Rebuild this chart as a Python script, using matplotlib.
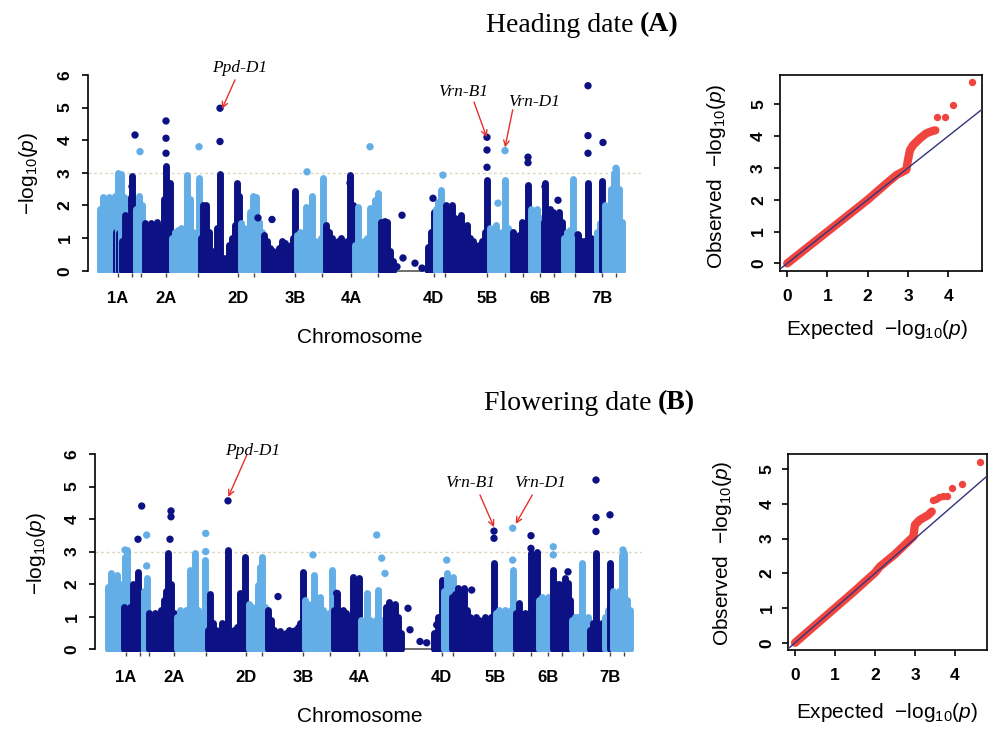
import matplotlib
matplotlib.use('Agg')
import matplotlib.pyplot as plt

plt.rcParams['font.family'] = ['Liberation Sans', 'DejaVu Sans']
plt.rcParams['mathtext.fontset'] = 'custom'
plt.rcParams['mathtext.rm'] = 'Liberation Sans'
plt.rcParams['mathtext.it'] = 'Liberation Sans:italic'

DARK = '#0c1283'
LIGHT = '#63aee6'
RED = '#f0453f'
CMAP = {'D': DARK, 'L': LIGHT}

# ---------------- data ----------------
chroms = ['1A', '1B', '1D', '2A', '2B', '2D', '3A', '3B', '3D', '4A', '4B',
          '4D', '5A', '5B', '5D', '6A', '6B', '6D', '7A', '7B', '7D']
chrom_mid = [18, 32, 41, 66, 98, 137.5, 153.5, 195, 222, 251, 277.5,
             333.5, 345, 387, 405, 423, 440, 453.5, 475, 502, 516]
shown = ['1A', '2A', '2D', '3B', '4A', '4D', '5B', '6B', '7B']

# Heading date: marker stacks (position, top -log10 p, colour) and lone markers
hd_cols = [
    (0, 1.9, 'L'), (3, 2.25, 'L'), (6, 2.2, 'L'), (9, 2.27, 'L'), (12, 2.1, 'L'), (15, 2.3, 'L'),
    (16, 1.2, 'D'), (18, 3.0, 'L'), (19, 1.15, 'D'), (21, 2.95, 'L'), (24, 2.25, 'L'),
    (22, 0.9, 'D'), (25, 1.7, 'D'), (28, 1.4, 'D'), (31, 2.27, 'D'), (32, 2.9, 'D'),
    (36, 1.9, 'L'), (39, 2.3, 'L'), (42, 2.0, 'L'),
    (45, 1.45, 'D'), (48, 1.0, 'D'), (51, 1.45, 'D'), (54, 1.1, 'D'), (57, 1.5, 'D'), (60, 1.0, 'D'),
    (62, 1.3, 'D'), (64, 2.2, 'D'), (66, 3.2, 'D'), (68, 2.7, 'D'), (70, 2.68, 'D'),
    (72, 1.0, 'L'), (75, 1.2, 'L'), (78, 1.25, 'L'), (81, 1.3, 'L'), (84, 1.2, 'L'), (87, 2.93, 'L'),
    (90, 2.2, 'L'), (93, 1.2, 'L'), (96, 1.0, 'L'), (99, 2.85, 'L'),
    (101, 1.0, 'D'), (103, 2.0, 'D'), (106, 2.0, 'D'), (109, 1.2, 'D'), (112, 0.6, 'D'), (115, 0.5, 'D'),
    (117, 1.3, 'D'), (120, 2.95, 'D'), (123, 0.4, 'D'), (126, 0.4, 'D'), (129, 0.8, 'D'), (132, 1.0, 'D'),
    (135, 1.4, 'D'), (137, 2.68, 'D'), (139, 2.3, 'D'),
    (141, 1.45, 'L'), (144, 1.3, 'L'), (147, 1.0, 'L'), (150, 1.8, 'L'), (153, 2.3, 'L'), (156, 2.27, 'L'),
    (159, 1.5, 'L'), (162, 1.2, 'L'),
    (164, 1.1, 'D'), (167, 0.9, 'D'), (170, 0.7, 'D'), (173, 0.6, 'D'), (176, 0.55, 'D'), (179, 0.7, 'D'),
    (182, 0.9, 'D'), (185, 0.85, 'D'), (188, 0.6, 'D'), (191, 0.8, 'D'), (193, 1.0, 'D'), (195, 2.45, 'D'),
    (197, 1.1, 'L'), (200, 1.2, 'L'), (203, 1.0, 'L'), (206, 1.95, 'L'), (209, 1.2, 'L'), (212, 2.3, 'L'),
    (215, 0.9, 'L'), (218, 0.8, 'L'), (221, 1.0, 'L'), (223, 2.84, 'L'),
    (226, 1.4, 'D'), (229, 1.2, 'D'), (232, 1.0, 'D'), (235, 0.8, 'D'), (238, 0.9, 'D'), (241, 1.0, 'D'),
    (244, 0.8, 'D'), (247, 0.9, 'D'), (250, 2.93, 'D'), (253, 2.0, 'D'),
    (255, 0.8, 'L'), (258, 1.95, 'L'), (261, 0.7, 'L'), (264, 0.9, 'L'), (267, 1.0, 'L'), (270, 1.92, 'L'),
    (273, 1.0, 'L'), (275, 2.16, 'L'), (278, 2.38, 'L'),
    (281, 1.5, 'D'), (284, 1.3, 'D'), (287, 1.5, 'D'), (290, 0.6, 'D'), (293, 0.3, 'D'),
    (328, 0.73, 'D'), (331, 1.2, 'D'), (334, 1.8, 'D'),
    (336, 1.9, 'L'), (338, 2.1, 'L'), (341, 2.47, 'L'), (344, 1.6, 'L'), (347, 1.2, 'L'),
    (346, 2.0, 'D'), (349, 1.9, 'D'), (352, 2.0, 'D'), (355, 1.6, 'D'), (358, 1.5, 'D'), (361, 1.7, 'D'),
    (364, 1.2, 'D'), (367, 1.4, 'D'), (370, 1.0, 'D'), (373, 0.9, 'D'), (376, 0.7, 'D'), (379, 0.8, 'D'),
    (382, 0.9, 'D'), (385, 1.2, 'D'), (387, 2.78, 'D'),
    (390, 1.3, 'L'), (393, 1.2, 'L'), (396, 1.4, 'L'), (399, 1.0, 'L'), (402, 1.2, 'L'), (405, 2.78, 'L'),
    (408, 1.3, 'L'), (411, 1.2, 'L'),
    (413, 1.2, 'D'), (416, 1.0, 'D'), (419, 1.1, 'D'), (422, 1.5, 'D'), (425, 1.3, 'D'), (428, 2.63, 'D'),
    (431, 1.9, 'L'), (434, 1.5, 'L'), (437, 1.9, 'L'), (440, 1.6, 'L'),
    (444, 1.5, 'D'), (445, 2.7, 'D'), (447, 1.86, 'D'), (450, 1.9, 'D'), (453, 1.8, 'D'), (456, 1.7, 'D'),
    (459, 1.8, 'D'), (462, 1.5, 'D'),
    (464, 1.0, 'L'), (467, 1.2, 'L'), (470, 1.25, 'L'), (473, 2.8, 'L'), (476, 1.1, 'L'),
    (478, 1.1, 'D'), (481, 0.9, 'D'), (484, 0.9, 'D'), (488, 2.7, 'D'), (491, 1.0, 'D'), (494, 0.8, 'D'),
    (497, 1.2, 'L'), (500, 1.46, 'L'), (502, 2.75, 'D'),
    (505, 2.0, 'L'), (508, 1.8, 'L'), (511, 2.5, 'L'), (514, 2.98, 'L'), (516, 3.1, 'L'), (519, 2.5, 'L'),
    (522, 1.5, 'L'),
]
hd_pts = [
    (35, 4.16, 'D'), (32, 2.58, 'D'), (66, 3.6, 'D'), (66, 4.06, 'D'), (66, 4.59, 'D'),
    (120, 3.96, 'D'), (120, 4.98, 'D'), (158, 1.62, 'D'), (172, 1.57, 'D'), (250, 2.69, 'D'),
    (285, 1.5, 'D'), (302, 1.7, 'D'), (303, 0.39, 'D'), (315, 0.23, 'D'), (322, 0.08, 'D'),
    (297, 0.12, 'D'), (333, 2.22, 'D'), (387, 3.17, 'D'), (387, 3.7, 'D'), (387, 4.09, 'D'),
    (428, 3.31, 'D'), (428, 3.48, 'D'), (445, 2.58, 'D'), (458, 2.16, 'D'),
    (488, 3.6, 'D'), (488, 4.14, 'D'), (488, 5.67, 'D'), (503, 3.93, 'D'), (478, 1.1, 'D'),
    (40, 3.65, 'L'), (99, 3.8, 'L'), (207, 3.03, 'L'), (270, 3.8, 'L'), (343, 2.93, 'L'),
    (405, 3.68, 'L'), (398, 2.07, 'L'), (516, 3.14, 'L'),
]

# Flowering date
fd_cols = [
    (0, 1.9, 'L'), (3, 2.33, 'L'), (6, 2.2, 'L'), (9, 2.28, 'L'), (12, 2.0, 'L'), (15, 1.8, 'L'),
    (17, 2.85, 'L'), (19, 3.05, 'L'),
    (16, 1.3, 'D'), (19, 1.0, 'D'), (22, 1.3, 'D'), (25, 2.0, 'D'), (28, 1.8, 'D'), (30, 2.38, 'D'),
    (36, 1.8, 'L'), (39, 2.2, 'L'),
    (41, 1.1, 'D'), (44, 1.0, 'D'), (47, 1.1, 'D'), (50, 1.0, 'D'), (53, 1.2, 'D'), (56, 1.5, 'D'),
    (58, 1.8, 'D'), (60, 2.95, 'D'), (63, 2.0, 'D'), (66, 1.1, 'D'),
    (69, 1.0, 'L'), (72, 1.2, 'L'), (75, 1.1, 'L'), (78, 1.2, 'L'), (82, 2.44, 'L'), (85, 1.2, 'L'),
    (87, 2.95, 'L'), (90, 1.2, 'L'), (93, 1.0, 'L'), (97, 2.74, 'L'),
    (100, 0.6, 'D'), (102, 1.7, 'D'), (105, 0.8, 'D'), (108, 0.6, 'D'), (111, 0.5, 'D'), (114, 0.8, 'D'),
    (117, 0.7, 'D'), (120, 3.05, 'D'), (123, 0.5, 'D'), (126, 0.6, 'D'), (129, 0.7, 'D'), (132, 1.72, 'D'),
    (135, 1.0, 'D'), (137, 2.85, 'D'),
    (141, 1.4, 'L'), (144, 1.3, 'L'), (147, 1.2, 'L'), (150, 1.98, 'L'), (152, 2.54, 'L'), (154, 2.85, 'L'),
    (157, 1.3, 'L'), (160, 1.1, 'L'),
    (160, 1.2, 'D'), (163, 0.9, 'D'), (166, 0.6, 'D'), (169, 0.5, 'D'), (172, 0.55, 'D'), (175, 0.4, 'D'),
    (178, 0.5, 'D'), (181, 0.6, 'D'), (184, 0.55, 'D'), (187, 0.6, 'D'), (190, 0.7, 'D'), (192, 0.8, 'D'),
    (195, 2.38, 'D'),
    (197, 1.5, 'L'), (200, 1.4, 'L'), (203, 1.3, 'L'), (206, 2.28, 'L'), (209, 1.4, 'L'), (212, 1.6, 'L'),
    (215, 1.2, 'L'), (218, 1.0, 'L'), (221, 1.1, 'L'), (224, 2.44, 'L'),
    (226, 1.2, 'D'), (229, 1.72, 'D'), (232, 1.16, 'D'), (235, 1.2, 'D'), (238, 1.1, 'D'), (241, 1.0, 'D'),
    (245, 2.23, 'D'), (248, 1.5, 'D'), (251, 2.2, 'D'),
    (253, 0.9, 'L'), (256, 0.8, 'L'), (259, 1.72, 'L'), (262, 0.9, 'L'), (265, 0.8, 'L'), (268, 0.9, 'L'),
    (270, 1.82, 'L'), (273, 0.9, 'L'), (276, 0.8, 'L'),
    (278, 1.3, 'D'), (281, 1.46, 'D'), (284, 1.3, 'D'), (287, 1.4, 'D'), (290, 1.0, 'D'), (293, 0.5, 'D'),
    (326, 0.5, 'D'), (330, 1.0, 'D'), (334, 2.13, 'D'),
    (336, 1.8, 'L'), (339, 2.33, 'L'), (342, 1.5, 'L'), (345, 2.23, 'L'),
    (344, 1.6, 'D'), (347, 1.7, 'D'), (350, 1.87, 'D'), (353, 1.6, 'D'), (356, 1.87, 'D'), (359, 1.2, 'D'),
    (362, 1.0, 'D'), (365, 0.9, 'D'), (368, 1.0, 'D'), (371, 0.9, 'D'), (374, 0.8, 'D'), (377, 1.0, 'D'),
    (380, 0.9, 'D'), (383, 1.0, 'D'), (386, 2.64, 'D'),
    (388, 1.1, 'L'), (391, 1.2, 'L'), (394, 1.0, 'L'), (397, 1.2, 'L'), (400, 1.1, 'L'), (403, 1.2, 'L'),
    (405, 2.44, 'L'),
    (408, 1.1, 'D'), (411, 1.41, 'D'), (414, 1.0, 'D'), (417, 1.1, 'D'), (420, 1.0, 'D'), (423, 2.95, 'D'),
    (426, 1.4, 'D'), (429, 3.0, 'D'),
    (431, 1.5, 'L'), (434, 1.6, 'L'), (437, 1.3, 'L'), (440, 1.6, 'L'), (443, 1.4, 'L'),
    (445, 2.44, 'D'), (448, 2.0, 'D'), (451, 2.0, 'D'), (454, 1.9, 'D'), (457, 2.2, 'D'), (460, 2.03, 'D'),
    (462, 1.5, 'D'),
    (464, 0.9, 'L'), (467, 1.0, 'L'), (470, 1.0, 'L'), (474, 2.64, 'L'), (477, 0.9, 'L'), (480, 1.0, 'L'),
    (482, 0.6, 'D'), (485, 0.8, 'D'), (488, 2.95, 'D'), (491, 0.7, 'D'), (494, 0.8, 'D'),
    (497, 1.0, 'L'), (500, 1.2, 'L'), (502, 2.64, 'D'),
    (505, 1.8, 'L'), (508, 1.6, 'L'), (511, 1.8, 'L'), (514, 2.9, 'L'), (516, 2.95, 'L'), (519, 1.5, 'L'),
    (522, 1.2, 'L'),
]
fd_pts = [
    (33.7, 4.4, 'D'), (30, 3.38, 'D'), (62, 3.38, 'D'), (63, 4.07, 'D'), (63, 4.25, 'D'),
    (120, 4.56, 'D'), (170, 1.62, 'D'), (228.7, 1.72, 'D'), (300, 1.26, 'D'), (302, 0.6, 'D'),
    (312, 0.24, 'D'), (318.7, 0.2, 'D'), (328.7, 0.75, 'D'), (363.7, 1.82, 'D'),
    (386, 3.41, 'D'), (386, 3.63, 'D'), (423, 3.1, 'D'), (423, 3.49, 'D'),
    (488, 3.62, 'D'), (488, 4.05, 'D'), (488, 5.2, 'D'), (502, 4.13, 'D'), (460, 2.38, 'D'),
    (17, 3.05, 'L'), (38.7, 2.56, 'L'), (38.7, 3.51, 'L'), (97.7, 3.0, 'L'), (97.7, 3.56, 'L'),
    (205, 2.9, 'L'), (268.7, 3.51, 'L'), (273.7, 2.8, 'L'), (277, 2.33, 'L'), (338.7, 2.74, 'L'),
    (404.7, 2.74, 'L'), (404.7, 3.72, 'L'), (445.3, 3.15, 'L'), (445.3, 2.9, 'L'), (515, 3.05, 'L'),
]

# genes: (label, marker x, marker y, arrow tail x, tail y, label x, label y)
hd_genes = [('Ppd-D1', 122, 4.96, 135, 5.85, 140, 6.22),
            ('Vrn-B1', 386.7, 4.09, 374, 5.17, 363, 5.48),
            ('Vrn-D1', 405, 3.78, 412.7, 4.93, 434, 5.17)]
fd_genes = [('Ppd-D1', 120.3, 4.68, 138.7, 5.96, 145, 6.09),
            ('Vrn-B1', 386, 3.75, 372, 4.74, 362, 5.12),
            ('Vrn-D1', 407.7, 3.85, 424.3, 4.74, 432, 5.12)]

# QQ: dense run of points (expected, observed) and the lone upper points
hd_qq_run = [(0, 0), (0.5, 0.5), (1, 1), (1.5, 1.5), (2, 2.0), (2.3, 2.33), (2.5, 2.55),
             (2.72, 2.78), (2.96, 2.94), (3.0, 3.25), (3.05, 3.56), (3.13, 3.72), (3.3, 3.93),
             (3.46, 4.09), (3.63, 4.17), (3.68, 4.18)]
hd_qq_top = [(3.73, 4.61), (3.92, 4.61), (4.12, 4.98), (4.6, 5.69)]
fd_qq_run = [(0, 0), (0.5, 0.5), (1, 1), (1.5, 1.5), (2, 2.02), (2.12, 2.19), (2.5, 2.55),
             (2.96, 3.06), (3.0, 3.4), (3.12, 3.54), (3.33, 3.68), (3.42, 3.78)]
fd_qq_top = [(3.44, 4.1), (3.52, 4.15), (3.6, 4.2), (3.7, 4.23), (3.79, 4.23), (3.92, 4.45),
             (4.17, 4.58), (4.62, 5.22)]

W, H = 998, 729


def fx(x):
    return x / W


def fy(y):
    return 1 - y / H


fig = plt.figure(figsize=(W / 100, H / 100), dpi=100)


def manhattan(rect, xlim, cols, pts, genes):
    ax = fig.add_axes(rect)
    ax.vlines([c[0] for c in cols], 0, [c[1] for c in cols],
              colors=[CMAP[c[2]] for c in cols], linewidth=5, capstyle='round', zorder=2)
    ax.scatter([p[0] for p in pts], [p[1] for p in pts], s=28,
               c=[CMAP[p[2]] for p in pts], linewidths=0, zorder=3)
    ax.plot([293, 332], [0, 0], color='#555555', lw=1.2, zorder=1)
    ax.axhline(3, color='#ddd6bf', lw=1, ls=(0, (2, 2)), zorder=0)
    for name, x, y, tx, ty, lx, ly in genes:
        ax.annotate('', xy=(x, y), xytext=(tx, ty),
                    arrowprops=dict(arrowstyle='->', color='#e8302a', lw=1,
                                    shrinkA=0, shrinkB=0))
        ax.text(lx, ly, name, fontsize=12.5, style='italic', ha='center', va='center',
                family=['Liberation Serif', 'DejaVu Serif'])
    ax.set_xlim(*xlim)
    ax.set_ylim(-0.08, 6.1)
    for s in ['top', 'right', 'bottom']:
        ax.spines[s].set_visible(False)
    ax.spines['left'].set_bounds(0, 6)
    ax.spines['left'].set_linewidth(1.2)
    ax.set_yticks(range(7))
    ax.set_xticks(chrom_mid)
    ax.set_xticklabels([c if c in shown else '' for c in chroms],
                       fontweight='bold', fontsize=12)
    ax.tick_params(axis='x', length=3, width=1, pad=10, colors='#444444', labelcolor='black')
    ax.tick_params(axis='y', length=4, width=1.2, pad=7, labelsize=12.5, labelrotation=90)
    for t in ax.get_yticklabels():
        t.set_fontweight('bold')
        t.set_va('center')
    return ax


def qq(rect, xlim, ylim, run, top, xt, yt):
    ax = fig.add_axes(rect)
    ax.plot([r[0] for r in run], [r[1] for r in run], color=RED, lw=6,
            solid_capstyle='round', solid_joinstyle='round', zorder=2)
    ax.scatter([t[0] for t in top], [t[1] for t in top], s=28, color=RED,
               linewidths=0, zorder=2)
    ax.plot([-1, 6], [-1, 6], color='#33337f', lw=1, zorder=3)
    ax.set_xlim(*xlim)
    ax.set_ylim(*ylim)
    ax.set_xticks(xt)
    ax.set_yticks(yt)
    for s in ax.spines.values():
        s.set_linewidth(1.2)
    ax.tick_params(axis='x', length=4, width=1.2, pad=9, labelsize=12.5)
    ax.tick_params(axis='y', length=4, width=1.2, pad=6, labelsize=12.5, labelrotation=90)
    for t in ax.get_xticklabels() + ax.get_yticklabels():
        t.set_fontweight('bold')
    for t in ax.get_yticklabels():
        t.set_va('center')
    return ax


ylab = r'$-\mathrm{log}_{10}(p)$'

# ---- (A) Heading date ----
manhattan([fx(88), fy(273.3), fx(641) - fx(88), fy(71.7) - fy(273.3)], (-12, 541),
          hd_cols, hd_pts, hd_genes)
qq([fx(780), fy(270.7), fx(982) - fx(780), fy(75) - fy(270.7)], (-0.18, 4.84), (-0.23, 5.92),
   hd_qq_run, hd_qq_top, range(5), range(6))

# ---- (B) Flowering date ----
manhattan([fx(95), fy(651.9), fx(642) - fx(95), fy(450.7) - fy(651.9)], (-13, 534),
          fd_cols, fd_pts, fd_genes)
qq([fx(788.3), fy(650), fx(987.3) - fx(788.3), fy(454) - fy(650)], (-0.17, 4.81), (-0.21, 5.44),
   fd_qq_run, fd_qq_top, range(5), range(6))

# labels
serif = ['Liberation Serif', 'DejaVu Serif']
fig.text(fx(640), fy(25), 'Heading date ', fontsize=20, family=serif, ha='right', va='center')
fig.text(fx(640), fy(25), '(A)', fontsize=20, family=serif, ha='left', va='center', fontweight='bold')
fig.text(fx(658), fy(403), 'Flowering date ', fontsize=20, family=serif, ha='right', va='center')
fig.text(fx(658), fy(403), '(B)', fontsize=20, family=serif, ha='left', va='center', fontweight='bold')

fig.text(fx(360), fy(337), 'Chromosome', fontsize=15, ha='center', va='center')
fig.text(fx(360), fy(716), 'Chromosome', fontsize=15, ha='center', va='center')
fig.text(fx(28), fy(173), ylab, fontsize=15, rotation=90, ha='center', va='center')
fig.text(fx(37), fy(553), ylab, fontsize=15, rotation=90, ha='center', va='center')

fig.text(fx(877), fy(330), 'Expected  ' + ylab, fontsize=15, ha='center', va='center')
fig.text(fx(887), fy(713), 'Expected  ' + ylab, fontsize=15, ha='center', va='center')
fig.text(fx(717), fy(176), 'Observed  ' + ylab, fontsize=15, rotation=90, ha='center', va='center')
fig.text(fx(723), fy(553), 'Observed  ' + ylab, fontsize=15, rotation=90, ha='center', va='center')

fig.savefig('out.png', dpi=100)
